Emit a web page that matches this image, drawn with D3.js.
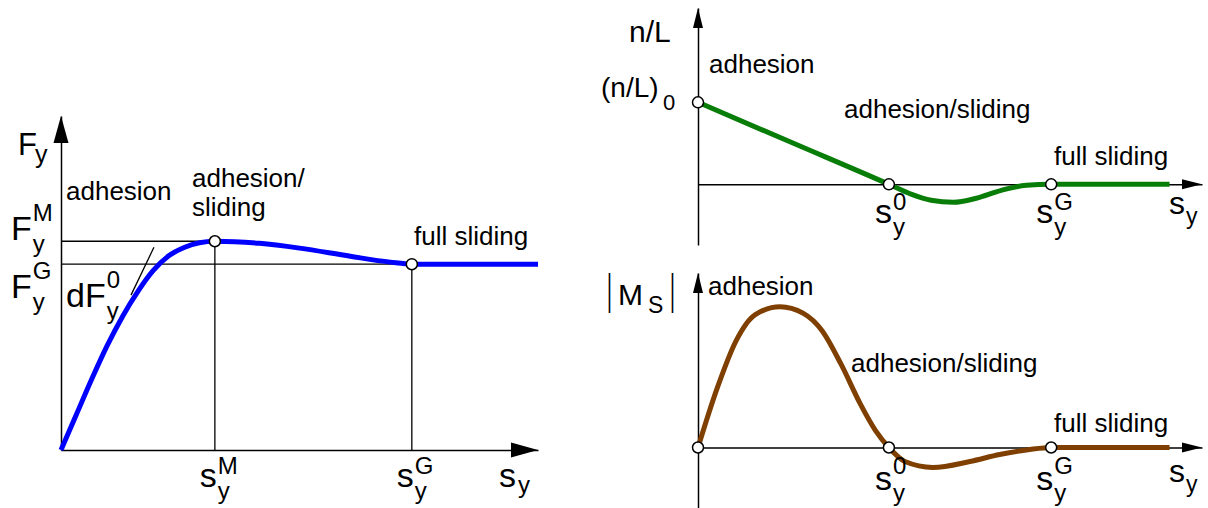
<!DOCTYPE html>
<meta charset="utf-8">
<head>
  <title>Friction regimes</title>
</head>

<style>
body { margin: 0; background: #fff; }
text {
  font-family: "Liberation Sans", Arial, Helvetica, sans-serif;
  fill: #000;
}
.axis path { stroke: #000; stroke-width: 1.5px; }
.guide { stroke: #000; stroke-width: 1.3px; fill: none; }
.marker { fill: #fff; stroke: #000; stroke-width: 1.5px; }
</style>

<body>
  <svg width="1208" height="508"></svg>

  <script src="https://cdnjs.cloudflare.com/ajax/libs/d3/7.8.5/d3.min.js"></script>
  <script>
// left chart: F_y over s_y (units: sM = 1, FM = 1)
var sM = 1.0, sG = 2.28
var FM = 1.0, FG = 0.89
var forceS = [0, 0.1, 0.2, 0.3, 0.4, 0.5, 0.6, 0.7, 0.8, 0.9, 1.0, 1.29, 1.55, 1.88, 2.14, 2.28, 3.1]
var forceF = [0, 0.17, 0.34, 0.50, 0.64, 0.76, 0.86, 0.93, 0.97, 0.993, 1.0, 0.99, 0.967, 0.928, 0.90, 0.89, 0.89]
var tangentS = [0.455, 0.604]
var tangentF = [0.742, 0.971]

// right charts: shared s_y axis (units: s0 = 1)
var s0 = 1.0, sG2 = 1.85
var nlS = [0, 0.5, 1.0, 1.116, 1.221, 1.337, 1.458, 1.589, 1.72, 1.85, 2.47]
var nlV = [1.0, 0.5, 0, -0.12, -0.195, -0.22, -0.17, -0.073, -0.012, 0, 0]
var msS = [0, 0.1, 0.2, 0.3, 0.43, 0.55, 0.65, 0.75, 0.85, 0.93, 1.0, 1.084, 1.23, 1.424, 1.58, 1.738, 1.85, 2.47]
var msV = [0, 0.42, 0.76, 0.945, 1.0, 0.955, 0.83, 0.59, 0.31, 0.12, 0, -0.1, -0.142, -0.1, -0.05, -0.014, 0, 0]

var svg = d3.select('svg')

var xL = d3.scaleLinear().domain([0, 3.1]).range([61, 538])
var yL = d3.scaleLinear().domain([0, 1.6]).range([450, 116])
var xR = d3.scaleLinear().domain([0, 2.64]).range([698, 1202])
var yT = d3.scaleLinear().domain([-0.74, 2.15]).range([245, 8])
var yB = d3.scaleLinear().domain([-0.43, 1.24]).range([508, 273])

function axes(x, y, xStart, big) {
  svg.append('g').attr('class', 'axis')
    .attr('transform', 'translate(0,' + y(0) + ')')
    .call(d3.axisBottom(x).tickValues([]).tickSizeOuter(0))
  svg.append('g').attr('class', 'axis')
    .attr('transform', 'translate(' + x(xStart) + ',0)')
    .call(d3.axisLeft(y).tickValues([]).tickSizeOuter(0))
  var len = big ? 27 : 20, w = big ? 7.5 : 5
  var tx = x.range()[1], ty = y(0)
  svg.append('path')
    .attr('d', 'M' + tx + ',' + ty + 'L' + (tx - len) + ',' + (ty - w) + 'L' + (tx - len) + ',' + (ty + w) + 'Z')
  var ux = x(xStart), uy = y.range()[1]
  svg.append('path')
    .attr('d', 'M' + ux + ',' + uy + 'L' + (ux - w) + ',' + (uy + len) + 'L' + (ux + w) + ',' + (uy + len) + 'Z')
}

function curve(xs, ys, x, y, color) {
  var line = d3.line()
    .x(function(d, i) { return x(xs[i]) })
    .y(function(d, i) { return y(ys[i]) })
    .curve(d3.curveMonotoneX)
  svg.append('path')
    .datum(xs)
    .attr('d', line)
    .attr('fill', 'none')
    .attr('stroke', color)
    .attr('stroke-width', 5)
}

function marker(cx, cy) {
  svg.append('circle').attr('class', 'marker')
    .attr('cx', cx).attr('cy', cy).attr('r', 5.5)
}

function txt(s, x, y, size) {
  return svg.append('text').attr('x', x).attr('y', y)
    .style('font-size', size + 'px').text(s)
}

// label like s^M_y : main letter, superscript, subscript
function math(x, y, main, sup, sub, subDy, supUp) {
  var t = txt(main, x, y, 34)
  var w = t.node().getComputedTextLength()
  var up = supUp || (/[A-Z]/.test(main[main.length - 1]) ? 19 : 13)
  if (sup) txt(sup, x + w + 1, y - up, 24)
  if (sub) txt(sub, x + w + 1, y + (subDy || 12), 24)
}

// thin vertical bar for |M_S|
function bar(x, y) {
  svg.append('text')
    .attr('transform', 'translate(' + x + ',' + y + ') scale(0.45,1)')
    .style('font-size', '42px').text('|')
}

// ---------- left chart ----------
svg.append('line').attr('class', 'guide')
  .attr('x1', xL(0)).attr('x2', xL(sM)).attr('y1', yL(FM)).attr('y2', yL(FM))
svg.append('line').attr('class', 'guide')
  .attr('x1', xL(0)).attr('x2', xL(sG)).attr('y1', yL(FG)).attr('y2', yL(FG))
svg.append('line').attr('class', 'guide')
  .attr('x1', xL(sM)).attr('x2', xL(sM)).attr('y1', yL(0)).attr('y2', yL(FM))
svg.append('line').attr('class', 'guide')
  .attr('x1', xL(sG)).attr('x2', xL(sG)).attr('y1', yL(0)).attr('y2', yL(FG))
svg.append('line').attr('class', 'guide')
  .attr('x1', xL(tangentS[0])).attr('x2', xL(tangentS[1]))
  .attr('y1', yL(tangentF[0])).attr('y2', yL(tangentF[1]))
axes(xL, yL, 0, true)
curve(forceS, forceF, xL, yL, '#0000ff')
marker(xL(sM), yL(FM))
marker(xL(sG), yL(FG))

txt('F', 18, 155, 31); txt('y', 35, 163, 25)
math(11, 240, 'F', 'M', 'y')
math(11, 298, 'F', 'G', 'y')
math(66, 307, 'dF', '0', 'y')
math(xL(sM) - 15, 487, 's', 'M', 'y')
math(xL(sG) - 15, 487, 's', 'G', 'y')
txt('s', 499, 487, 34); txt('y', 518, 493, 24)
txt('adhesion', 66, 200, 26)
txt('adhesion/', 192, 187, 26)
txt('sliding', 192, 216, 26)
txt('full sliding', 414, 245, 26)

// ---------- top right chart ----------
axes(xR, yT, 0, false)
curve(nlS, nlV, xR, yT, '#087d08')
marker(xR(0), yT(1))
marker(xR(s0), yT(0))
marker(xR(sG2), yT(0))
txt('n/L', 629, 42, 30)
txt('(n/L)', 601, 97, 28); txt('0', 663, 110, 22)
math(xR(s0) - 14, 223, 's', '0', 'y')
math(xR(sG2) - 15, 223, 's', 'G', 'y')
txt('s', 1169, 214, 32); txt('y', 1186, 224, 23)
txt('adhesion', 709, 73, 26)
txt('adhesion/sliding', 844, 118, 26)
txt('full sliding', 1054, 165, 26)

// ---------- bottom right chart ----------
axes(xR, yB, 0, false)
curve(msS, msV, xR, yB, '#7f3f00')
marker(xR(0), yB(0))
marker(xR(s0), yB(0))
marker(xR(sG2), yB(0))
bar(607, 304)
txt('M', 618, 305, 30)
txt('S', 648, 313, 23)
bar(670, 304)
math(xR(s0) - 14, 490, 's', '0', 'y', 11, 16)
math(xR(sG2) - 15, 490, 's', 'G', 'y', 11, 16)
txt('s', 1169, 482, 32); txt('y', 1186, 492, 23)
txt('adhesion', 708, 295, 26)
txt('adhesion/sliding', 851, 372, 26)
txt('full sliding', 1054, 432, 26)
  </script>
</body>
</html>
